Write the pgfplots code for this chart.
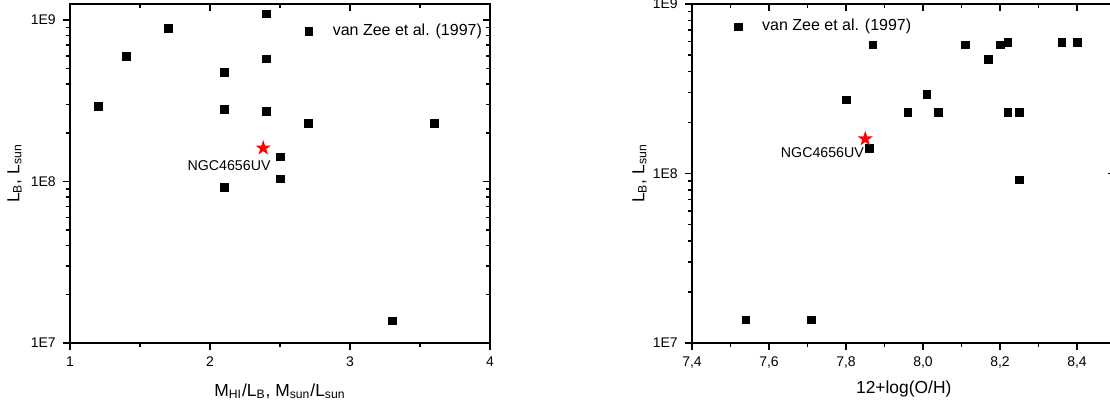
\documentclass[border=0pt]{standalone}
\usepackage{fontspec}
\setmainfont{Liberation Sans}
\usepackage{pgfplots}
\pgfplotsset{compat=1.18}
\usetikzlibrary{plotmarks}

\pgfdeclareplotmark{fivestar}{%
  \pgfpathmoveto{\pgfpointpolar{90}{\pgfplotmarksize}}%
  \pgfpathlineto{\pgfpointpolar{126}{0.382*\pgfplotmarksize}}%
  \pgfpathlineto{\pgfpointpolar{162}{\pgfplotmarksize}}%
  \pgfpathlineto{\pgfpointpolar{198}{0.382*\pgfplotmarksize}}%
  \pgfpathlineto{\pgfpointpolar{234}{\pgfplotmarksize}}%
  \pgfpathlineto{\pgfpointpolar{270}{0.382*\pgfplotmarksize}}%
  \pgfpathlineto{\pgfpointpolar{306}{\pgfplotmarksize}}%
  \pgfpathlineto{\pgfpointpolar{342}{0.382*\pgfplotmarksize}}%
  \pgfpathlineto{\pgfpointpolar{18}{\pgfplotmarksize}}%
  \pgfpathlineto{\pgfpointpolar{54}{0.382*\pgfplotmarksize}}%
  \pgfpathclose
  \pgfusepathqfill
}

\pgfplotsset{
  myaxbase/.style={
    scale only axis,
    axis line style={line width=0.75pt},
    major tick style={black, line width=0.75pt},
    minor tick style={black, line width=0.75pt},
    major tick length=3.6pt, minor tick length=1.8pt,
    tick label style={font=\fontsize{7}{8}\selectfont},
    label style={font=\fontsize{8.7}{10}\selectfont},
  },
  myaxmain/.style={
    myaxbase,
    xtick pos=left, ytick pos=left, tick align=outside,
    legend style={draw=none, fill=none, inner sep=0pt, outer sep=0pt,
      font=\fontsize{8}{9}\selectfont, nodes={inner sep=0pt},
      /tikz/column sep=10pt},
    legend image code/.code={\draw plot coordinates {(0pt,0pt)};},
  },
  myaxmirror/.style={
    myaxbase,
    xtick pos=right, ytick pos=right, tick align=inside,
    xticklabels={}, yticklabels={},
  },
  mysq/.style={only marks, mark=square*, mark size=1.9pt, black, mark options={line width=0.3pt}},
  myst/.style={only marks, mark=fivestar, mark size=4pt, red},
}

\begin{document}
\begin{tikzpicture}
\path[use as bounding box] (0,0) rectangle (555pt,202.5pt);

% ---------- left panel ----------
\begin{axis}[ymode=log, log basis y=10, myaxmirror, at={(35pt,31pt)}, anchor=south west, width=210pt, height=169.5pt,
  xmin=1, xmax=4, ymin=1e7, ymax=1.256e9, xtick={1,2,3,4}, minor x tick num=1]
\end{axis}
\begin{axis}[ymode=log, log basis y=10, myaxmain, at={(35pt,31pt)}, anchor=south west, width=210pt, height=169.5pt,
  xmin=1, xmax=4, ymin=1e7, ymax=1.256e9, xtick={1,2,3,4}, minor x tick num=1,
  /pgf/number format/assume math mode=true,
  yticklabel={1E\pgfmathparse{int(round(\tick))}\pgfmathresult},
  xlabel={M\textsubscript{HI}/L\textsubscript{B}, M\textsubscript{sun}/L\textsubscript{sun}},
  ylabel={L\textsubscript{B}, L\textsubscript{sun}},
  xlabel style={at={(axis description cs:0.5,-0.157)}, anchor=base},
  ylabel style={at={(axis description cs:-0.132,0.5)}, anchor=center},
  legend style={at={(axis description cs:0.560,0.920)}, anchor=west}]
\addplot[mysq] coordinates {
  (1.2,2.93e8) (1.4,5.96e8) (1.7,8.89e8)
  (2.1,4.75e8) (2.1,2.80e8) (2.1,9.2e7)
  (2.4,1.09e9) (2.4,5.76e8) (2.4,2.72e8)
  (2.5,1.42e8) (2.5,1.04e8)
  (2.7,2.30e8) (3.6,2.30e8) (3.3,1.37e7)
};
\addlegendentry{van Zee et al. (1997)}
\addplot[myst, forget plot] coordinates {(2.38,1.61e8)};
\node[anchor=east, inner sep=0pt, font=\fontsize{7.1}{8}\selectfont, xshift=3.85pt, yshift=-8.7pt]
  at (axis cs:2.38,1.61e8) {NGC4656UV};
\end{axis}

% ---------- right panel ----------
\begin{axis}[ymode=log, log basis y=10, myaxmirror, at={(346pt,31pt)}, anchor=south west, width=211.75pt, height=169.5pt,
  xmin=7.4, xmax=8.5, ymin=1e7, ymax=1e9, xtick={7.4,7.6,...,8.41}, minor x tick num=1]
\end{axis}
\begin{axis}[ymode=log, log basis y=10, myaxmain, at={(346pt,31pt)}, anchor=south west, width=211.75pt, height=169.5pt,
  xmin=7.4, xmax=8.5, ymin=1e7, ymax=1e9, xtick={7.4,7.6,...,8.41}, minor x tick num=1,
  /pgf/number format/assume math mode=true,
  yticklabel={1E\pgfmathparse{int(round(\tick))}\pgfmathresult},
  xticklabel style={/pgf/number format/.cd, use comma, fixed, fixed zerofill, precision=1},
  xlabel={12+log(O/H)},
  ylabel={L\textsubscript{B}, L\textsubscript{sun}},
  xlabel style={at={(axis description cs:0.5,-0.148)}, anchor=base},
  ylabel style={at={(axis description cs:-0.124,0.5)}, anchor=center},
  legend style={at={(axis description cs:0.1004,0.933)}, anchor=west}]
\addplot[mysq] coordinates {
  (7.80,2.72e8) (7.87,5.75e8) (8.11,5.75e8) (8.20,5.75e8) (8.22,5.94e8)
  (8.17,4.72e8) (8.36,5.94e8) (8.40,5.94e8) (8.01,2.92e8) (7.96,2.30e8)
  (8.04,2.29e8) (8.22,2.30e8) (8.25,2.30e8) (7.86,1.41e8) (8.25,9.2e7)
  (7.54,1.37e7) (7.71,1.37e7)
};
\addlegendentry{van Zee et al. (1997)}
\addplot[myst, forget plot] coordinates {(7.85,1.60e8)};
\node[anchor=east, inner sep=0pt, font=\fontsize{7.1}{8}\selectfont, xshift=-0.5pt, yshift=-6.75pt]
  at (axis cs:7.85,1.60e8) {NGC4656UV};
\end{axis}
\end{tikzpicture}
\end{document}
